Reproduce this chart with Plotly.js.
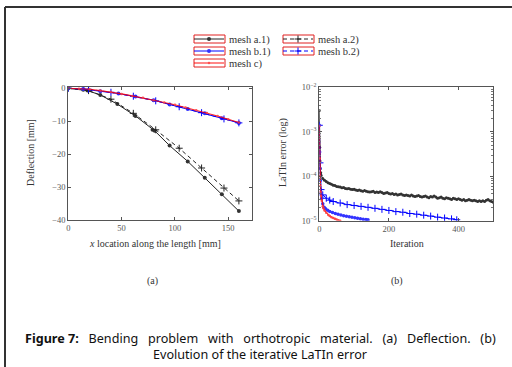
<!DOCTYPE html>
<html><head><meta charset="utf-8">
<script src="https://cdn.plot.ly/plotly-3.0.1.min.js"></script>
<style>html,body{margin:0;padding:0;background:#fff;overflow:hidden}#chart{width:512px;height:367px}</style>
</head><body><div id="chart"></div>
<script>
// ---- (a) Deflection data ----
const a1_x = [0, 14, 18, 30, 46, 63, 79, 81, 95, 112, 128, 144, 160];
const a1_y = [0, -0.4, -0.7, -2.0, -4.8, -8.4, -12.6, -12.9, -17.4, -22.2, -27.2, -32.2, -37.3];
const a2_x = [0, 19, 40, 61, 82, 104, 125, 146, 160];
const a2_y = [0, -0.7, -3.3, -7.6, -12.6, -18.2, -24.2, -30.3, -34.2];
const b1_x = [0, 14, 30, 47, 63, 80, 95, 112, 128, 144, 160];
const b1_y = [0, -0.2, -0.9, -1.6, -2.5, -3.6, -4.9, -6.3, -7.6, -9.1, -10.5];
const b2_x = [0, 19, 40, 61, 82, 104, 125, 146, 160];
const b2_y = [0, -0.3, -1.2, -2.4, -3.8, -5.6, -7.4, -9.3, -10.5];
const c_x = [0, 10, 20, 30, 40, 50, 60, 70, 80, 90, 100, 110, 120, 130, 140, 150, 160];
const c_y = [0, -0.1, -0.3, -0.7, -1.1, -1.7, -2.3, -2.9, -3.6, -4.3, -5.0, -5.8, -6.7, -7.5, -8.4, -9.4, -10.4];
const seriesNames = ["mesh a.1)", "mesh a.2)", "mesh b.1)", "mesh b.2)", "mesh c)"];

// ---- (b) LaTIn error data (values in units of 1e-5) ----
const itA = [0,1,2,3,4,5,10,15,20,25,30,35,40,45,50,55,60,65,70,75,80,85,90,95,100,105,110,115,120,125,130,135,140,145,150,155,160,165,170,175,180,185,190,195,200,205,210,215,220,225,230,235,240,245,250,255,260,265,270,275,280,285,290,295,300,305,310,315,320,325,330,335,340,345,350,355,360,365,370,375,380,385,390,395,400,405,410,415,420,425,430,435,440,445,450,455,460,465,470,475,480,485,490,495,500];
const errA = [300,45,22,15,12,10.5,8.9,8.1,7.6,7.1,6.9,6.6,6.3,6.2,5.9,5.8,5.7,5.5,5.6,5.3,5.2,5.3,5.1,5.0,5.1,4.9,4.8,4.9,4.7,4.6,4.8,4.6,4.5,4.4,4.5,4.6,4.3,4.4,4.3,4.5,4.3,4.1,4.2,4.3,4.1,4.0,4.1,3.9,4.0,3.8,3.9,4.0,3.8,3.7,3.8,3.7,3.6,3.8,3.6,3.5,3.6,3.7,3.5,3.4,3.5,3.6,3.4,3.3,3.5,3.4,3.6,3.4,3.2,3.3,3.4,3.2,3.1,3.3,3.2,3.1,3.0,3.2,3.1,3.0,3.1,3.0,2.9,3.0,2.8,2.9,3.0,2.9,2.8,2.9,2.8,2.7,2.8,2.7,2.8,2.7,2.9,3.0,2.8,2.7,2.6];
const itB2 = [0,2,5,10,20,30,40,60,80,100,120,140,160,180,200,220,240,260,280,300,320,340,360,380,395];
const errB2 = [140,20,5,3.8,3.2,2.9,2.7,2.5,2.3,2.2,2.1,2.0,1.9,1.8,1.7,1.6,1.55,1.45,1.4,1.33,1.27,1.2,1.15,1.1,1.05];
const itB1 = [0,1,2,3,5,7,10,14,18,24,30,38,46,54,62,70,78,86,94,102,110,118,126,134,140];
const errB1 = [140,35,15,8,4.2,3.2,2.4,2.0,1.85,1.72,1.6,1.52,1.45,1.4,1.34,1.3,1.26,1.22,1.2,1.17,1.13,1.11,1.08,1.06,1.05];
const itC = [0,1,2,3,4,5,7,10,12,15,20,26,30,35,40,45,50,55,60];
const errC = [135,25,10,6,4.5,3.6,2.8,2.1,1.9,1.7,1.5,1.35,1.28,1.2,1.15,1.1,1.06,1.03,1.0];

const serif = "Liberation Serif, DejaVu Serif, serif";
const scale = v => v.map(e => e * 1e-5);

const traces = [
  {x:a1_x, y:a1_y, name:seriesNames[0], mode:"lines+markers", line:{color:"#222", width:1}, marker:{symbol:"circle", size:4, color:"#333"}, legend:"legend"},
  {x:a2_x, y:a2_y, name:seriesNames[1], mode:"lines+markers", line:{color:"#222", width:1, dash:"4px,3px"}, marker:{symbol:"cross-thin", size:5, line:{color:"#222", width:1}}, legend:"legend"},
  {x:b1_x, y:b1_y, name:seriesNames[2], mode:"lines+markers", line:{color:"#0000ff", width:1}, marker:{symbol:"circle", size:4, color:"#3333ff"}, legend:"legend2"},
  {x:b2_x, y:b2_y, name:seriesNames[3], mode:"lines+markers", line:{color:"#0000ff", width:1, dash:"4px,3px"}, marker:{symbol:"cross-thin", size:5, line:{color:"#0000ff", width:1}}, legend:"legend2"},
  {x:c_x, y:c_y, name:seriesNames[4], mode:"lines+markers", line:{color:"#ff0000", width:1.1}, marker:{symbol:"circle", size:2.5, color:"#ff3333"}, legend:"legend3", opacity:0.85},
  // (b)
  {x:itA, y:scale(errA), xaxis:"x2", yaxis:"y2", showlegend:false, mode:"lines+markers", line:{color:"#222", width:1}, marker:{symbol:"circle", size:3, color:"#333"}},
  {x:itB2, y:scale(errB2), xaxis:"x2", yaxis:"y2", showlegend:false, mode:"lines+markers", line:{color:"#0000ff", width:1, dash:"4px,3px"}, marker:{symbol:"cross-thin", size:5, line:{color:"#0000ff", width:1}}},
  {x:itB1, y:scale(errB1), xaxis:"x2", yaxis:"y2", showlegend:false, mode:"lines+markers", line:{color:"#0000ff", width:1}, marker:{symbol:"circle", size:3.5, color:"#3333ff"}},
  {x:itC, y:scale(errC), xaxis:"x2", yaxis:"y2", showlegend:false, mode:"lines+markers", line:{color:"#ff0000", width:1.1}, marker:{symbol:"circle", size:2.5, color:"#ff3333"}, opacity:0.9}
];

const W = 512, H = 367;
const px = v => v / W, py = v => 1 - v / H;
const axStyle = {showline:true, linecolor:"#555", linewidth:1, mirror:"ticks", ticks:"inside", ticklen:3, tickcolor:"#555", showgrid:false, zeroline:false,
  tickfont:{family:serif, size:8.5, color:"#555"}};

const legBase = {orientation:"h", entrywidth:44, entrywidthmode:"pixels", itemwidth:30, bgcolor:"rgba(0,0,0,0)", font:{family:serif, size:10.5, color:"#333"}, xanchor:"left", yanchor:"middle", tracegroupgap:0};

const boxes = [[194,35,225,43],[283,35,314,43],[194,47,225,55],[283,47,314,55],[194,59,225,67]];
const shapes = boxes.map(b => ({type:"rect", xref:"paper", yref:"paper", x0:px(b[0]), x1:px(b[2]), y0:py(b[3]), y1:py(b[1]), line:{color:"#e02020", width:1}}));
shapes.push({type:"line", xref:"paper", yref:"paper", x0:px(5), x1:1, y0:py(7), y1:py(7), line:{color:"#333", width:2}});
shapes.push({type:"line", xref:"paper", yref:"paper", x0:px(5), x1:px(5), y0:py(7), y1:0, line:{color:"#333", width:2}});

const ann = (x, y, text, opts) => Object.assign({xref:"paper", yref:"paper", x:px(x), y:py(y), text, showarrow:false, xanchor:"center", yanchor:"middle", font:{family:serif, size:10, color:"#333"}}, opts || {});
const sp = "&nbsp;&nbsp; ";
const capFont = {family:"Noto Sans, Open Sans, sans-serif", size:12.6, color:"#111"};

const layout = {
  width:W, height:H, margin:{l:0, r:0, t:0, b:0}, paper_bgcolor:"#fff", plot_bgcolor:"#fff",
  xaxis:Object.assign({}, axStyle, {domain:[px(68.3), px(251.7)], range:[0, 172], tickvals:[0,50,100,150], anchor:"y"}),
  yaxis:Object.assign({}, axStyle, {domain:[py(220), py(87)], range:[-40, 0.4], tickvals:[0,-10,-20,-30,-40], anchor:"x"}),
  xaxis2:Object.assign({}, axStyle, {domain:[px(319.3), px(493.3)], range:[0, 500], tickvals:[0,200,400], anchor:"y2"}),
  yaxis2:Object.assign({}, axStyle, {domain:[py(220.7), py(87.3)], type:"log", range:[-5, -2], anchor:"x2",
    tickvals:[1e-5,1e-4,1e-3,1e-2], ticktext:["10<sup>−5</sup>","10<sup>−4</sup>","10<sup>−3</sup>","10<sup>−2</sup>"],
    minor:{ticks:"inside", ticklen:2, tickcolor:"#777", tickvals:[2e-5,3e-5,4e-5,5e-5,6e-5,7e-5,8e-5,9e-5,2e-4,3e-4,4e-4,5e-4,6e-4,7e-4,8e-4,9e-4,2e-3,3e-3,4e-3,5e-3,6e-3,7e-3,8e-3,9e-3]}}),
  legend:Object.assign({}, legBase, {x:px(189), y:py(39)}),
  legend2:Object.assign({}, legBase, {x:px(189), y:py(51)}),
  legend3:Object.assign({}, legBase, {x:px(189), y:py(63)}),
  shapes,
  annotations:[
    ann(155, 243, "<i>x</i> location along the length [mm]"),
    ann(30, 153, "Deflection [mm]", {textangle:-90}),
    ann(283, 153, "LaTIn error (log)", {textangle:-90}),
    ann(407, 243, "Iteration"),
    ann(152, 281, "(a)"),
    ann(397, 281, "(b)"),
    ann(260, 338, ["<b>Figure 7:</b>", "Bending", "problem", "with", "orthotropic", "material.", "(a)", "Deflection.", "(b)"].join(sp), {font:capFont}),
    ann(260, 354, "Evolution of the iterative LaTIn error", {font:capFont})
  ]
};

Plotly.newPlot("chart", traces, layout, {staticPlot:true, displayModeBar:false});
</script></body></html>
